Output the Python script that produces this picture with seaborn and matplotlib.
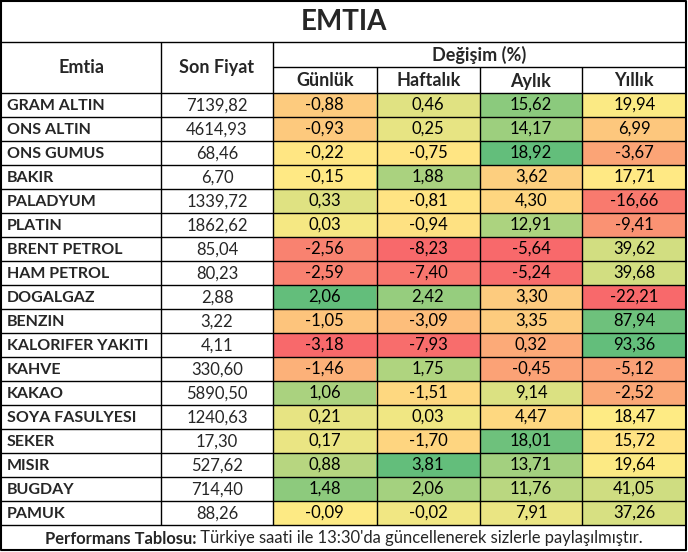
import numpy as np
import pandas as pd
import matplotlib
matplotlib.use("Agg")
import matplotlib.pyplot as plt
from matplotlib.colors import LinearSegmentedColormap
import seaborn as sns

# tablo verileri
emtia = ["GRAM ALTIN", "ONS ALTIN", "ONS GUMUS", "BAKIR", "PALADYUM", "PLATIN",
         "BRENT PETROL", "HAM PETROL", "DOGALGAZ", "BENZIN", "KALORIFER YAKITI",
         "KAHVE", "KAKAO", "SOYA FASULYESI", "SEKER", "MISIR", "BUGDAY", "PAMUK"]
son_fiyat = [7139.82, 4614.93, 68.46, 6.70, 1339.72, 1862.62, 85.04, 80.23, 2.88,
             3.22, 4.11, 330.60, 5890.50, 1240.63, 17.30, 527.62, 714.40, 88.26]
gunluk = [-0.88, -0.93, -0.22, -0.15, 0.33, 0.03, -2.56, -2.59, 2.06, -1.05,
          -3.18, -1.46, 1.06, 0.21, 0.17, 0.88, 1.48, -0.09]
haftalik = [0.46, 0.25, -0.75, 1.88, -0.81, -0.94, -8.23, -7.40, 2.42, -3.09,
            -7.93, 1.75, -1.51, 0.03, -1.70, 3.81, 2.06, -0.02]
aylik = [15.62, 14.17, 18.92, 3.62, 4.30, 12.91, -5.64, -5.24, 3.30, 3.35,
         0.32, -0.45, 9.14, 4.47, 18.01, 13.71, 11.76, 7.91]
yillik = [19.94, 6.99, -3.67, 17.71, -16.66, -9.41, 39.62, 39.68, -22.21, 87.94,
          93.36, -5.12, -2.52, 18.47, 15.72, 19.64, 41.05, 37.26]
donemler = ["Günlük", "Haftalık", "Aylık", "Yıllık"]

df = pd.DataFrame({"Günlük": gunluk, "Haftalık": haftalik,
                   "Aylık": aylik, "Yıllık": yillik}, index=emtia)


def tr(v):
    return f"{v:.2f}".replace(".", ",")


def olcekle(col):
    # Excel 3 renk ölçeği: min - %50 - max
    lo, mid, hi = col.min(), col.median(), col.max()
    return col.apply(lambda v: 0.5 * (v - lo) / (mid - lo) if v < mid
                     else 0.5 + 0.5 * (v - mid) / (hi - mid))


renk_df = df.apply(olcekle)
annot = df.map(tr)

cmap = LinearSegmentedColormap.from_list("rdylgn_excel", ["#F8696B", "#FFEB84", "#63BE7B"])

sns.set_theme(style="white")
plt.rcParams["font.family"] = ["Lato", "DejaVu Sans"]

FS_DATA = 12
FS_NAME = 11.5
FS_HEAD = 13
W, H = 688, 552
fig = plt.figure(figsize=(W / 100, H / 100), dpi=100, facecolor="white")

# sütun ve satır sınırları (piksel)
xs = [1, 161, 273, 377, 480, 582, 686]
y_title, y_sub, y_head = 42, 67, 93
row_h = 24
n = len(emtia)
y_end = y_head + n * row_h
y_bottom = 550

hax = fig.add_axes([xs[2] / W, (H - y_end) / H, (xs[6] - xs[2]) / W, (y_end - y_head) / H])
sns.heatmap(renk_df, cmap=cmap, vmin=0, vmax=1, annot=annot, fmt="", cbar=False,
            linewidths=0, xticklabels=False, yticklabels=False, ax=hax,
            annot_kws={"color": "black", "fontsize": FS_DATA})

ax = fig.add_axes([0, 0, 1, 1])
ax.patch.set_alpha(0)
ax.set_xlim(0, W)
ax.set_ylim(H, 0)
ax.axis("off")

lw = 1.0
k = "black"
# çerçeve
ax.plot([xs[0], xs[6], xs[6], xs[0], xs[0]], [1, 1, y_bottom, y_bottom, 1], color=k, lw=1.5)
ax.hlines([y_title, y_head, y_end], xs[0], xs[6], color=k, lw=lw)
ax.hlines(y_sub, xs[2], xs[6], color=k, lw=lw)
ax.hlines([y_head + row_h * i for i in range(1, n)], xs[0], xs[6], color=k, lw=lw)
ax.vlines(xs[1:3], y_title, y_end, color=k, lw=lw)
ax.vlines(xs[3:6], y_sub, y_end, color=k, lw=lw)

ax.text(W / 2, y_title / 2 + 1, "EMTIA", ha="center", va="center",
        fontsize=20, fontweight="bold")
hy = (y_title + y_head) / 2
ax.text((xs[0] + xs[1]) / 2, hy, "Emtia", ha="center", va="center", fontsize=FS_HEAD, fontweight="bold")
ax.text((xs[1] + xs[2]) / 2, hy, "Son Fiyat", ha="center", va="center", fontsize=FS_HEAD, fontweight="bold")
ax.text((xs[2] + xs[6]) / 2, (y_title + y_sub) / 2, "Değişim (%)", ha="center", va="center",
        fontsize=FS_HEAD, fontweight="bold")
for i, d in enumerate(donemler):
    ax.text((xs[2 + i] + xs[3 + i]) / 2, (y_sub + y_head) / 2 + 1, d, ha="center",
            va="center", fontsize=FS_HEAD, fontweight="bold")

for i, (ad, f) in enumerate(zip(emtia, son_fiyat)):
    yc = y_head + row_h * i + row_h / 2 + 1
    ax.text(xs[0] + 6, yc, ad, ha="left", va="center", fontsize=FS_NAME, fontweight="bold")
    ax.text((xs[1] + xs[2]) / 2, yc, tr(f), ha="center", va="center", fontsize=FS_DATA)

# alt bilgi: kalın + normal metin yan yana ortalı
fy = (y_end + y_bottom) / 2 + 1
t1 = ax.text(0, fy, "Performans Tablosu:", ha="left", va="center", fontsize=11.9, fontweight="bold")
t2 = ax.text(0, fy, " Türkiye saati ile 13:30'da güncellenerek sizlerle paylaşılmıştır.",
             ha="left", va="center", fontsize=11.9)
fig.canvas.draw()
r = fig.canvas.get_renderer()
w1 = t1.get_window_extent(r).width
w2 = t2.get_window_extent(r).width
x0 = W / 2 - (w1 + w2) / 2
t1.set_x(x0)
t2.set_x(x0 + w1)

fig.savefig("out.png", dpi=100, facecolor="white")
